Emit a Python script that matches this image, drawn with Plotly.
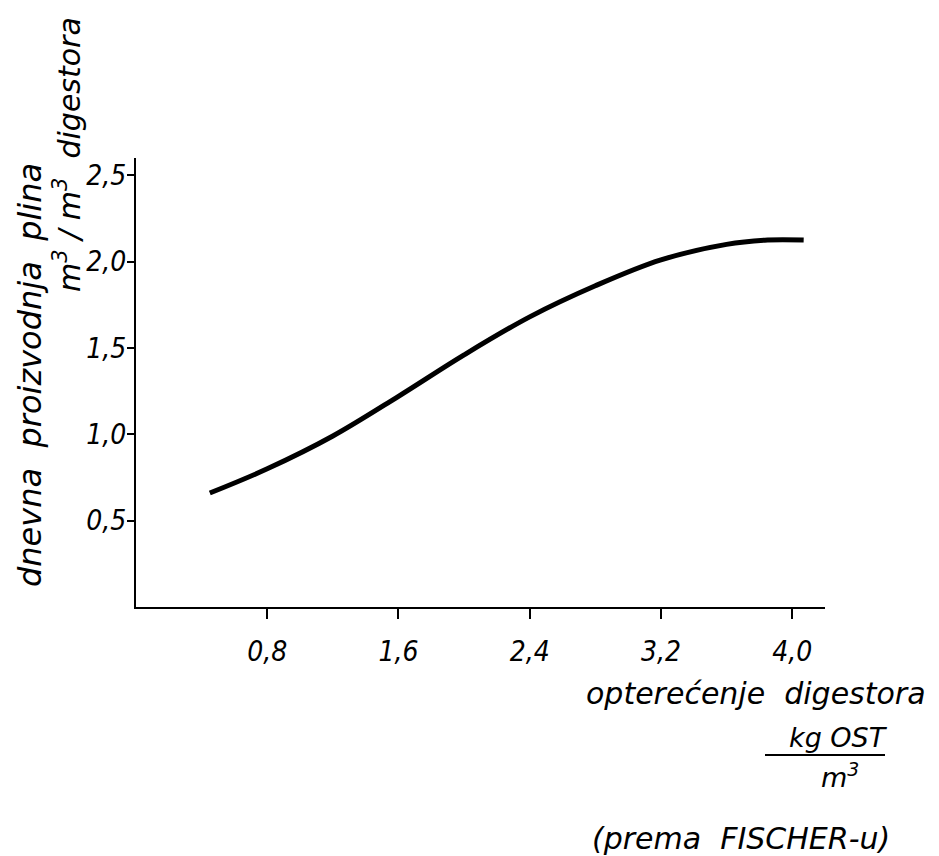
import plotly.graph_objects as go

# data
load_x = [0.45, 0.80, 1.20, 1.60, 2.00, 2.40, 2.80, 3.20, 3.60, 3.85, 4.07]
gas_y = [0.66, 0.80, 0.99, 1.22, 1.46, 1.68, 1.86, 2.01, 2.10, 2.125, 2.125]

x_tickvals = [0.8, 1.6, 2.4, 3.2, 4.0]
x_ticktext = ["0,8", "1,6", "2,4", "3,2", "4,0"]
y_tickvals = [0.5, 1.0, 1.5, 2.0, 2.5]
y_ticktext = ["0,5", "1,0", "1,5", "2,0", "2,5"]

OFF = 8  # page body margin
W, H = 939 - OFF, 856 - OFF
L, T = 136 - OFF, 158 - OFF
R = W - (825 - OFF)
B = H - (607 - OFF)
pw, ph = W - L - R, H - T - B


def px(x):
    return (x - OFF - L) / pw


def py(y):
    return (H - B - (y - OFF)) / ph


FONT = dict(family="DejaVu Sans", color="black", style="italic")
TICKFONT = dict(family="DejaVu Sans Condensed, DejaVu Sans", color="black", style="italic", size=28)

fig = go.Figure()
fig.add_trace(go.Scatter(x=load_x, y=gas_y, mode="lines",
                         line=dict(color="black", width=5, shape="spline", smoothing=1.0),
                         showlegend=False, hoverinfo="skip"))

fig.update_layout(
    width=W, height=H,
    margin=dict(l=L, r=R, t=T, b=B),
    paper_bgcolor="white", plot_bgcolor="white",
    xaxis=dict(range=[0, 4.2], showgrid=False, zeroline=False, showline=True,
               linecolor="black", linewidth=2, ticks="outside", ticklen=10, tickwidth=2,
               tickcolor="black", tickvals=x_tickvals, ticktext=x_ticktext,
               tickfont=TICKFONT, ticklabelstandoff=8),
    yaxis=dict(range=[0, 2.6], showgrid=False, zeroline=False, showline=True,
               linecolor="black", linewidth=2, ticks="outside", ticklen=7, tickwidth=2,
               tickcolor="black", tickvals=y_tickvals, ticktext=y_ticktext,
               tickfont=TICKFONT, ticklabelstandoff=-5),
)

ann = [
    dict(text="dnevna  proizvodnja  plina", x=px(30), y=py(375), textangle=-90, size=32),
    dict(text="m<sup>3</sup> / m<sup>3</sup>  digestora", x=px(68), y=py(155), textangle=-90, size=30),
    dict(text="opterećenje  digestora", x=px(756), y=py(693), textangle=0, size=30),
    dict(text="kg OST", x=px(838), y=py(737), textangle=0, size=27),
    dict(text="m<sup>3</sup>", x=px(840), y=py(775), textangle=0, size=27),
    dict(text="(prema  FISCHER-u)", x=px(741), y=py(838), textangle=0, size=30),
]
for a in ann:
    fig.add_annotation(text=a["text"], x=a["x"], y=a["y"], xref="paper", yref="paper",
                       showarrow=False, textangle=a["textangle"],
                       font=dict(size=a["size"], **FONT), xanchor="center", yanchor="middle")

fig.add_shape(type="line", xref="paper", yref="paper",
              x0=px(765), x1=px(885), y0=py(755), y1=py(755),
              line=dict(color="black", width=2))

fig.write_html("out.html")
